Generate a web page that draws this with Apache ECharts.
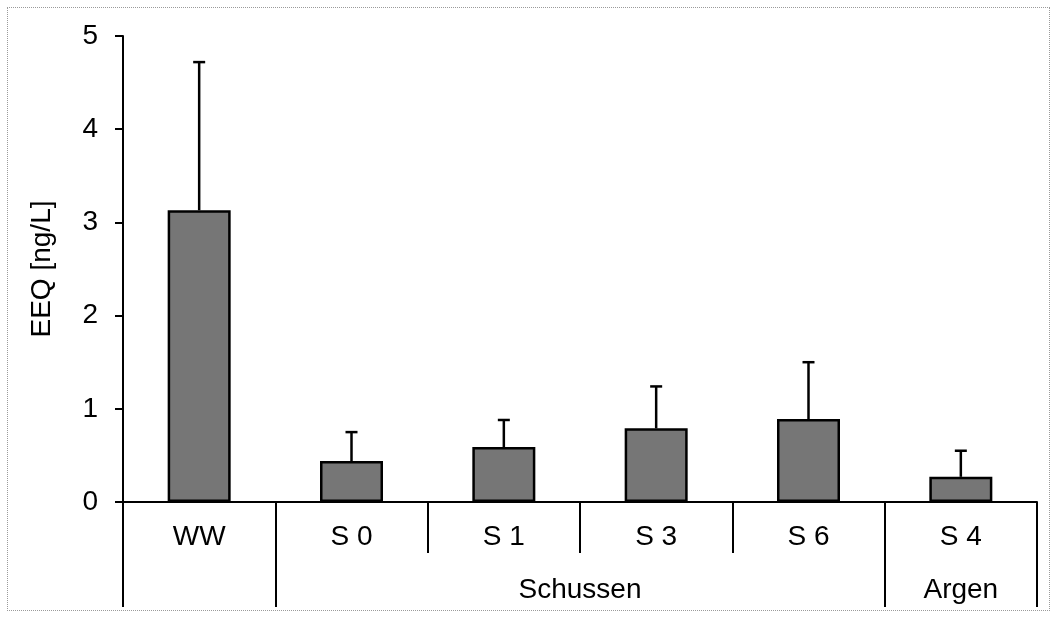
<!DOCTYPE html>
<html>
<head>
<meta charset="utf-8">
<script src="https://cdn.jsdelivr.net/npm/echarts@6/dist/echarts.min.js"></script>
<style>
  html, body { margin: 0; padding: 0; background: #fff; }
  #wrap { position: relative; width: 1056px; height: 617px; }
  #chart { position: absolute; left: 0; top: 0; width: 1056px; height: 617px; }
  #frame { position: absolute; left: 7px; top: 7px; width: 1041px; height: 602px; border: 1px dotted #9a9a9a; pointer-events: none; }
</style>
</head>
<body>
<div id="wrap"><div id="chart"></div><div id="frame"></div></div>
<script>
// ---- data ----
const categories = ['WW', 'S 0', 'S 1', 'S 3', 'S 6', 'S 4'];
const values = [3.13, 0.44, 0.59, 0.79, 0.89, 0.27];
const errors = [1.59, 0.31, 0.29, 0.45, 0.61, 0.28];
const groupNames = ['', 'Schussen', 'Argen'];
const groupSizes = [1, 4, 1];
const yTicks = [0, 1, 2, 3, 4, 5];
const yAxisName = 'EEQ [ng/L]';

// derived group boundaries / centres (in category units)
const groupBounds = [0];
groupSizes.forEach(s => groupBounds.push(groupBounds[groupBounds.length - 1] + s));
const groupCenters = [];
const centerName = {};
groupSizes.forEach((s, i) => {
  if (groupNames[i]) {
    const c = groupBounds[i] + s / 2;
    groupCenters.push(c);
    centerName[c] = groupNames[i];
  }
});

const FONT = '"Liberation Sans", Arial, sans-serif';
const FS = 28;
const chart = echarts.init(document.getElementById('chart'), null, { renderer: 'canvas' });

chart.setOption({
  animation: false,
  backgroundColor: '#ffffff',
  grid: { left: 123, right: 19, top: 36, bottom: 115, containLabel: false },
  xAxis: [
    {
      type: 'category',
      data: categories,
      position: 'bottom',
      axisLine: { show: true, lineStyle: { color: '#000', width: 2 } },
      axisTick: { show: true, interval: 0, alignWithLabel: false, length: 51, lineStyle: { color: '#000', width: 2 } },
      axisLabel: { interval: 0, margin: 21, color: '#000', fontSize: FS, fontFamily: FONT },
      splitLine: { show: false }
    },
    {
      type: 'value',
      min: 0,
      max: categories.length,
      position: 'bottom',
      axisLine: { show: false },
      axisTick: { show: true, customValues: groupBounds, length: 105, lineStyle: { color: '#000', width: 2 } },
      axisLabel: {
        show: true, customValues: groupCenters, margin: 74, color: '#000', fontSize: FS, fontFamily: FONT,
        formatter: v => centerName[v] || ''
      },
      splitLine: { show: false }
    }
  ],
  yAxis: {
    type: 'value',
    min: yTicks[0],
    max: yTicks[yTicks.length - 1],
    interval: 1,
    name: yAxisName,
    nameLocation: 'middle',
    nameGap: 67,
    nameRotate: 90,
    nameTextStyle: { color: '#000', fontSize: FS, fontFamily: FONT },
    axisLine: { show: true, lineStyle: { color: '#000', width: 2 } },
    axisTick: { show: true, length: 8, lineStyle: { color: '#000', width: 2 } },
    axisLabel: { margin: 25, color: '#000', fontSize: FS, fontFamily: FONT },
    splitLine: { show: false }
  },
  series: [
    {
      type: 'bar',
      xAxisIndex: 0,
      data: values,
      barWidth: 63,
      itemStyle: { color: '#767676', borderColor: '#000', borderWidth: 2.5 },
      z: 2
    },
    {
      type: 'custom',
      xAxisIndex: 0,
      yAxisIndex: 0,
      data: values.map((v, i) => [i, v, v + errors[i]]),
      renderItem: function (params, api) {
        const lo = api.coord([api.value(0), api.value(1)]);
        const hi = api.coord([api.value(0), api.value(2)]);
        const half = 6;
        const style = { stroke: '#000', lineWidth: 2.5 };
        return {
          type: 'group',
          children: [
            { type: 'line', shape: { x1: lo[0], y1: lo[1], x2: hi[0], y2: hi[1] }, style: style },
            { type: 'line', shape: { x1: hi[0] - half, y1: hi[1], x2: hi[0] + half, y2: hi[1] }, style: style }
          ]
        };
      },
      z: 3
    }
  ]
});
</script>
</body>
</html>
